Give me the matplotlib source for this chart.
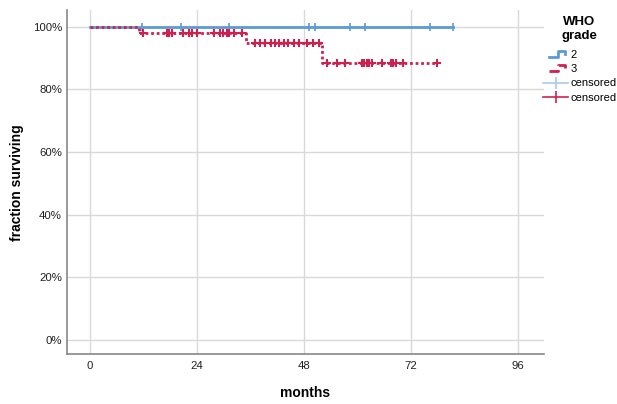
import numpy as np
import matplotlib
matplotlib.use('Agg')
import matplotlib.pyplot as plt
from matplotlib.lines import Line2D
from matplotlib.legend_handler import HandlerBase

plt.rcParams['font.family'] = ['Liberation Sans', 'DejaVu Sans']

# Kaplan-Meier data (months, percent surviving)
g2_times = [0, 81.3]
g2_surv = [100, 100]
g2_censor = [11.6, 20.4, 31.1, 49.0, 50.5, 58.2, 61.7, 76.2, 81.3]

g3_times = [0, 11.0, 35.0, 52.0, 77.9]
g3_surv = [100, 98.0, 94.8, 88.4, 88.4]
g3_censor_l1 = [11.9, 17.2, 17.8, 18.4, 20.9, 22.1, 22.9, 24.0, 27.7,
                29.2, 29.8, 30.7, 31.1, 32.2, 34.1]
g3_censor_l2 = [36.9, 38.2, 39.3, 40.6, 41.5, 42.4, 43.4, 44.5, 45.7,
                46.8, 48.6, 50.1, 51.4]
g3_censor_l3 = [53.1, 55.3, 57.2, 60.9, 61.4, 62.0, 62.6, 63.2, 65.4,
                67.5, 68.0, 68.6, 70.2, 77.9]

xticks = [0, 24, 48, 72, 96]
yticks = [0, 20, 40, 60, 80, 100]

blue = '#5b9bd5'
blue_light = '#a9c9ec'
red = '#cf2150'


# step shaped legend icon
class StepHandler(HandlerBase):
    def create_artists(self, legend, orig, xd, yd, w, h, fontsize, trans):
        xs = np.array([0.25, 0.6, 0.6, 0.88, 0.88]) * w - xd
        ys = np.array([0.1, 0.1, 0.95, 0.95, 0.5]) * h - yd
        ln = Line2D(xs, ys, color=orig.get_color(), lw=orig.get_linewidth(),
                    linestyle=orig.get_linestyle(), transform=trans)
        return [ln]


fig = plt.figure(figsize=(6.17, 4.04), dpi=100)
ax = fig.add_axes([0.1081, 0.123, 0.773, 0.852])

ax.step(g2_times, g2_surv, where='post', color=blue, lw=2, zorder=3)
ax.plot(g2_censor, [100] * len(g2_censor), linestyle='none', marker='|',
        markersize=6, mew=1.2, color=blue, zorder=4)

ax.step(g3_times, g3_surv, where='post', color=red, lw=2,
        linestyle=(0, (1, 1)), zorder=5)
c3 = g3_censor_l1 + g3_censor_l2 + g3_censor_l3
c3_y = [98.0] * len(g3_censor_l1) + [94.8] * len(g3_censor_l2) + [88.4] * len(g3_censor_l3)
ax.plot(c3, c3_y, linestyle='none', marker='+', markersize=6, mew=1.5,
        color=red, zorder=6)

ax.set_xlim(-5.22, 101.7)
ax.set_ylim(-4.6, 105.3)
ax.set_xticks(xticks)
ax.set_yticks(yticks)
ax.set_yticklabels(['%d%%' % v for v in yticks])
ax.tick_params(length=0, labelsize=8.2, colors='#222222')
ax.tick_params(axis='x', pad=5)
ax.tick_params(axis='y', pad=3.4)
ax.grid(True, color='#d9d9d9', lw=1)
ax.set_axisbelow(True)
for s in ['top', 'right']:
    ax.spines[s].set_visible(False)
for s in ['left', 'bottom']:
    ax.spines[s].set_color('#888888')
    ax.spines[s].set_linewidth(1.2)

ax.set_xlabel('months', fontsize=10, fontweight='bold', va='center')
ax.xaxis.set_label_coords(0.5, -0.112)
ax.set_ylabel('fraction surviving', fontsize=10, fontweight='bold', va='center')
ax.yaxis.set_label_coords(-0.104, 0.5)

# legend title
fig.text(579 / 617, 1 - 22 / 404, 'WHO', ha='center', va='center',
         fontsize=9.5, fontweight='bold')
fig.text(579 / 617, 1 - 35.5 / 404, 'grade', ha='center', va='center',
         fontsize=9.5, fontweight='bold')

h2 = Line2D([], [], color=blue, lw=2)
h3 = Line2D([], [], color=red, lw=2, linestyle=(0, (1, 1)))
hc2 = Line2D([], [], color=blue_light, lw=1.2, marker='|', markersize=8, mew=1.2)
hc3 = Line2D([], [], color=red, lw=1.2, marker='|', markersize=8, mew=1.2)
leg = ax.legend([h2, h3, hc2, hc3], ['2', '3', 'censored', 'censored'],
                loc='upper left', bbox_to_anchor=(543 / 617, 1 - 50 / 404),
                bbox_transform=fig.transFigure, borderpad=0, borderaxespad=0,
                frameon=False, fontsize=8, handlelength=2.25, handletextpad=0.2,
                labelspacing=0.38, numpoints=1,
                handler_map={h2: StepHandler(), h3: StepHandler()})

fig.savefig('out.png', dpi=100)
